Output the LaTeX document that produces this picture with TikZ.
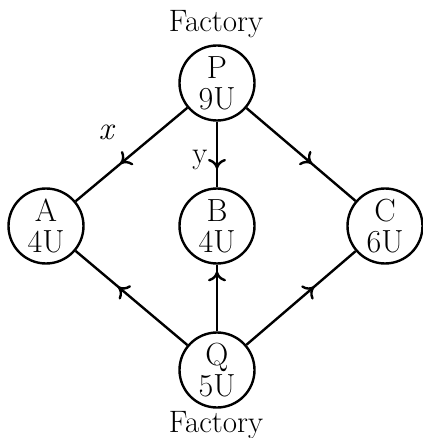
\documentclass[tikz,border=0pt]{standalone}
\usepackage{fontspec}
\usetikzlibrary{arrows.meta,decorations.markings}
\begin{document}
\begin{tikzpicture}[x=1pt,y=-1pt,
  site/.style={draw,circle,line width=2.4pt,minimum size=75pt,inner sep=0pt,align=center,font=\fontsize{32}{34}\selectfont},
  lbl/.style={font=\fontsize{31}{33}\selectfont,inner sep=0pt},
  flow/.style={line width=2.4pt,postaction={decorate},decoration={markings,mark=at position #1 with {\arrow{Computer Modern Rightarrow[length=10pt,width=18pt,line width=2.4pt]}}}},
  flow/.default=0.6]
\useasboundingbox (0,0) rectangle (422,438);
\node[site] (P) at (217,83) {P\\[-3pt]9U};
\node[site] (A) at (46,226) {A\\[-3pt]4U};
\node[site] (B) at (217,226) {B\\[-3pt]4U};
\node[site] (C) at (385,226) {C\\[-3pt]6U};
\node[site] (Q) at (217,370) {Q\\[-3pt]5U};
\node[lbl,anchor=base] (ft) at (216,32) {Factory};
\node[lbl,anchor=base] (fb) at (216,432) {Factory};
\draw[flow=0.6] (P) -- (A);
\draw[flow=0.72] (P) -- (B);
\draw[flow=0.6] (P) -- (C);
\draw[flow=0.62] (Q) -- (A);
\draw[flow=0.9] (Q) -- (B);
\draw[flow=0.62] (Q) -- (C);
\node[lbl,font=\fontsize{33}{35}\selectfont\itshape] (xl) at (106,132) {x};
\node[lbl] (yl) at (200,160) {y};
\end{tikzpicture}
\end{document}
